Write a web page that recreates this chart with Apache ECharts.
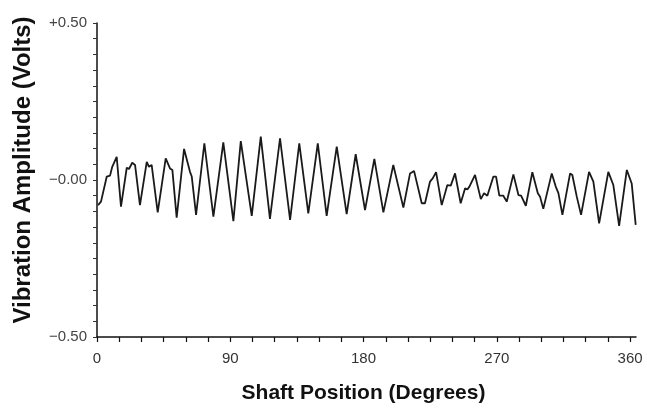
<!DOCTYPE html>
<html>
<head>
<meta charset="utf-8">
<script src="https://cdn.jsdelivr.net/npm/echarts@6/dist/echarts.min.js"></script>
<style>
html,body{margin:0;padding:0;background:#fff;}
#chart{width:647px;height:412px;}
</style>
</head>
<body>
<div id="chart"></div>
<script>
// Shaft position (degrees)
var shaftDeg = [0.7, 2.7, 6.6, 8.8, 10.3, 13.3, 16.2, 20.1, 21.6, 23.8, 25.7, 29.0, 33.6, 35.1, 36.9, 41.0,
  46.4, 49.3, 50.9, 53.8, 58.8, 62.8, 64.0, 66.9, 72.5, 78.6, 85.3, 92.1, 97.1, 104.5, 110.6, 116.8,
  123.6, 130.4, 136.6, 142.7, 149.1, 155.1, 161.9, 168.6, 174.7, 181.0, 187.3, 193.4, 200.1, 206.9,
  211.4, 214.1, 219.3, 221.5, 224.9, 226.7, 229.0, 232.8, 236.6, 238.9, 241.8, 245.6, 248.6, 250.1,
  251.5, 255.3, 259.2, 261.4, 263.6, 267.7, 269.5, 271.7, 274.4, 276.7, 281.2, 284.6, 286.4, 289.6,
  294.0, 297.7, 299.2, 301.4, 307.1, 309.8, 311.6, 314.3, 319.5, 321.0, 324.0, 326.9, 332.3, 335.2,
  339.1, 345.3, 348.7, 352.6, 357.8, 361.1, 363.8];
// Vibration amplitude (volts)
var amplitude = [-0.080, -0.069, 0.011, 0.014, 0.042, 0.074, -0.085, 0.039, 0.035, 0.055, 0.048, -0.080, 0.058, 0.042, 0.048, -0.103,
  0.069, 0.037, 0.032, -0.120, 0.099, 0.026, 0.011, -0.111, 0.117, -0.117, 0.120, -0.131, 0.124, -0.114, 0.138, -0.124,
  0.133, -0.127, 0.117, -0.106, 0.117, -0.114, 0.106, -0.109, 0.082, -0.096, 0.067, -0.103, 0.048, -0.088,
  0.021, 0.029, -0.074, -0.074, -0.005, 0.005, 0.025, -0.080, -0.016, -0.018, 0.021, -0.074, -0.026, -0.030,
  -0.021, 0.016, -0.061, -0.042, -0.050, 0.011, 0.011, -0.050, -0.050, -0.069, 0.018, -0.048, -0.050, -0.082,
  0.025, -0.042, -0.053, -0.092, 0.021, -0.021, -0.042, -0.111, 0.021, 0.016, -0.053, -0.111, 0.026, -0.005,
  -0.138, 0.026, -0.016, -0.146, 0.032, -0.011, -0.143];
// Tick positions and labels
var xTicks = [0, 15, 30, 45, 60, 75, 90, 105, 120, 135, 150, 165, 180, 195, 210, 225, 240, 255, 270, 285, 300, 315, 330, 345, 360];
var xLabelValues = [0, 90, 180, 270, 360];
var xLabelTexts = ['0', '90', '180', '270', '360'];
var yLabelValues = [-0.5, 0, 0.5];
var yLabelTexts = ['\u22120.50', '\u22120.00', '+0.50'];

var data = shaftDeg.map(function (d, i) { return [d, amplitude[i]]; });

var chart = echarts.init(document.getElementById('chart'), null, {renderer: 'canvas'});
var axisColor = '#111';
var font = 'Liberation Sans, Arial, sans-serif';
chart.setOption({
  animation: false,
  backgroundColor: '#ffffff',
  grid: {left: 97, right: 11, top: 23, bottom: 75, containLabel: false},
  xAxis: {
    type: 'value', min: 0, max: 364, interval: 15,
    name: 'Shaft Position (Degrees)', nameLocation: 'middle', nameGap: 46,
    nameTextStyle: {fontFamily: font, fontWeight: 'bold', fontSize: 21, color: '#111', padding: [0, 6, 0, 0]},
    axisLine: {show: true, onZero: false, lineStyle: {color: axisColor, width: 1.5}},
    axisTick: {show: true, length: 5, customValues: xTicks, lineStyle: {color: axisColor, width: 1.2}},
    axisLabel: {
      margin: 14, fontFamily: font, fontSize: 15, color: '#333',
      customValues: xLabelValues,
      formatter: function (v) { var i = xLabelValues.indexOf(Math.round(v)); return i >= 0 ? xLabelTexts[i] : ''; }
    },
    splitLine: {show: false}
  },
  yAxis: {
    type: 'value', min: -0.5, max: 0.5, interval: 0.05,
    name: 'Vibration Amplitude (Volts)', nameLocation: 'middle', nameGap: 62, nameRotate: 90,
    nameTextStyle: {fontFamily: font, fontWeight: 'bold', fontSize: 24, color: '#111', padding: [0, 0, 0, 20]},
    axisLine: {show: true, onZero: false, lineStyle: {color: axisColor, width: 1.5}},
    axisTick: {show: true, length: 4, lineStyle: {color: '#333', width: 1}},
    axisLabel: {
      margin: 10, fontFamily: font, fontSize: 15, color: '#444',
      formatter: function (v) {
        for (var i = 0; i < yLabelValues.length; i++) {
          if (Math.abs(v - yLabelValues[i]) < 1e-6) return yLabelTexts[i];
        }
        return '';
      }
    },
    splitLine: {show: false}
  },
  series: [{
    type: 'line', data: data, showSymbol: false, clip: false, smooth: false,
    lineStyle: {color: '#1a1a1a', width: 1.8}
  }]
});
</script>
</body>
</html>
